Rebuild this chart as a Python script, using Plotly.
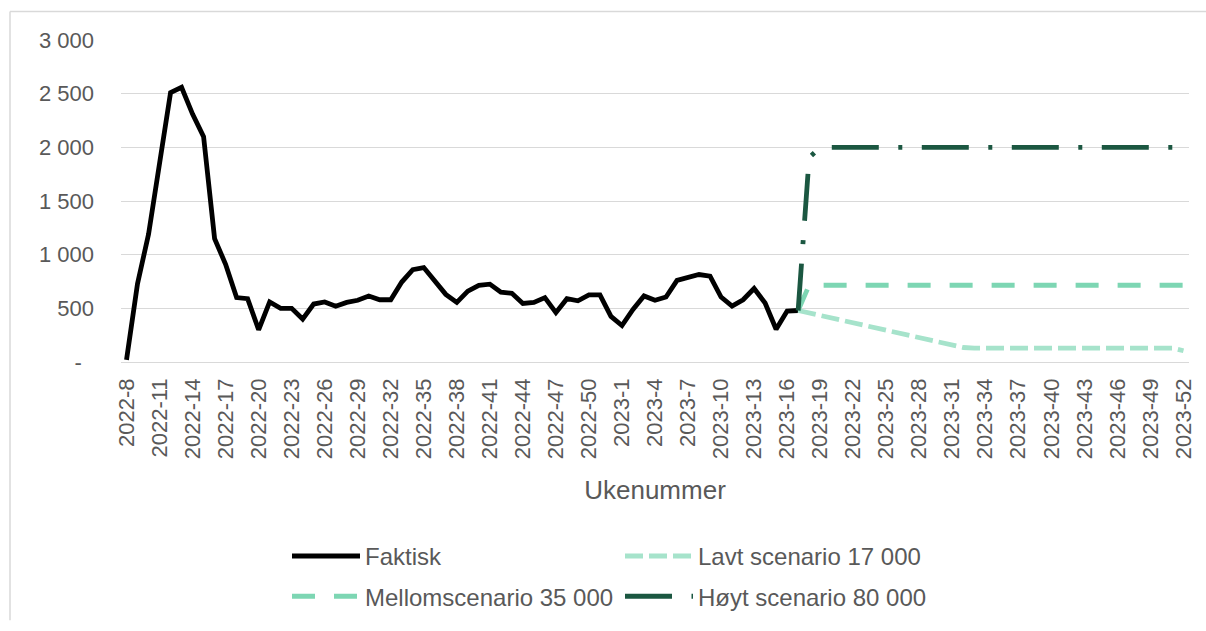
import plotly.graph_objects as go

# ---------------- data ----------------
weeks_2022 = list(range(8, 53))
weeks_2023 = list(range(1, 53))
categories = [f"2022-{w}" for w in weeks_2022] + [f"2023-{w}" for w in weeks_2023]

faktisk = [20, 730, 1190, 1850, 2510, 2560, 2310, 2100, 1150, 910,
           600, 590, 300, 560, 500, 500, 400, 540, 560, 520,
           555, 575, 615, 580, 580, 745, 860, 880, 760, 630,
           555, 660, 715, 725, 650, 640, 545, 555, 600, 460,
           590, 570, 625, 625, 425, 340, 490, 615, 575, 605,
           760, 785, 815, 800, 605, 520, 580, 685, 550, 305,
           475, 480]

lavt = [480, 457, 434, 411, 388, 366, 343, 320, 297, 274,
        251, 228, 205, 182, 159, 135, 130, 130, 130, 130,
        130, 130, 130, 130, 130, 130, 130, 130, 130, 130,
        130, 130, 130, 130, 130, 105]

mellom = [480, 715, 715, 715, 715, 715, 715, 715, 715, 715,
          715, 715, 715, 715, 715, 715, 715, 715, 715, 715,
          715, 715, 715, 715, 715, 715, 715, 715, 715, 715,
          715, 715, 715, 715, 715, 715]

hoyt = [480, 1905, 2000, 2000, 2000, 2000, 2000, 2000, 2000, 2000,
        2000, 2000, 2000, 2000, 2000, 2000, 2000, 2000, 2000, 2000,
        2000, 2000, 2000, 2000, 2000, 2000, 2000, 2000, 2000, 2000,
        2000, 2000, 2000, 2000, 2000, 2000]

series_names = ["Faktisk", "Lavt scenario 17 000", "Mellomscenario 35 000", "Høyt scenario 80 000"]

y_tickvals = [0, 500, 1000, 1500, 2000, 2500, 3000]
y_ticktext = ["-\u00a0\u00a0", "500", "1 000", "1 500", "2 000", "2 500", "3 000"]
x_tickvals = categories[::3]

# ---------------- figure ----------------
FONT = "Liberation Sans, Arial, sans-serif"
GRAY = "#595959"
GRID = "#d9d9d9"

n_fak = len(faktisk)
scen_x = categories[n_fak - 1:]

fig = go.Figure()
fig.add_trace(go.Scatter(x=categories[:n_fak], y=faktisk, mode="lines", name=series_names[0],
                         line=dict(color="#000000", width=4.8), legend="legend"))
fig.add_trace(go.Scatter(x=scen_x, y=lavt, mode="lines", name=series_names[1],
                         line=dict(color="#a6e3cb", width=4.8, dash="18px,6px"), legend="legend"))
fig.add_trace(go.Scatter(x=scen_x, y=mellom, mode="lines", name=series_names[2],
                         line=dict(color="#7dd6b3", width=4.8, dash="23px,19px"), legend="legend2"))
fig.add_trace(go.Scatter(x=scen_x, y=hoyt, mode="lines", name=series_names[3],
                         line=dict(color="#1b5741", width=4.8, dash="47px,19.5px,4px,19.5px"), legend="legend2"))

L, R, T, B = 121, 17, 40, 263
W, H = 1206, 631
pw = W - L - R
ph = H - T - B

def px_x(px):
    return (px - L) / pw

def px_y(py):
    return (H - B - py) / ph

legend_common = dict(orientation="h", xanchor="left", yanchor="middle",
                     font=dict(family=FONT, size=24, color=GRAY),
                     bgcolor="rgba(0,0,0,0)", itemwidth=68,
                     entrywidth=250, entrywidthmode="pixels",
                     traceorder="normal", tracegroupgap=0)

border = dict(color=GRID, width=1.5)

fig.update_layout(
    width=W, height=H, autosize=False,
    margin=dict(l=L, r=R, t=T, b=B, pad=0),
    paper_bgcolor="white", plot_bgcolor="white",
    font=dict(family=FONT, size=22, color=GRAY),
    showlegend=True,
    legend=dict(x=px_x(287), y=px_y(566), **legend_common),
    legend2=dict(x=px_x(287), y=px_y(607), **legend_common),
    xaxis=dict(type="category", categoryorder="array", categoryarray=categories,
               range=[-0.5, len(categories) - 0.5],
               tickmode="array", tickvals=x_tickvals, ticktext=x_tickvals,
               tickangle=-90, tickfont=dict(family=FONT, size=22, color=GRAY),
               showgrid=False, zeroline=False, showline=False, ticks="",
               ticklabelstandoff=11,
               title=dict(text="Ukenummer", font=dict(family=FONT, size=26, color=GRAY), standoff=22),
               automargin=False),
    yaxis=dict(range=[0, 3000], tickmode="array", tickvals=y_tickvals, ticktext=y_ticktext,
               tickfont=dict(family=FONT, size=22, color=GRAY),
               showgrid=True, gridcolor=GRID, gridwidth=1.3,
               zeroline=True, zerolinecolor=GRID, zerolinewidth=1.3,
               showline=False, ticks="", ticklabelstandoff=26, automargin=False),
    shapes=[
        dict(type="line", xref="paper", yref="paper",
             x0=px_x(10), x1=px_x(W), y0=px_y(11), y1=px_y(11), line=border, layer="below"),
        dict(type="line", xref="paper", yref="paper",
             x0=px_x(10), x1=px_x(10), y0=px_y(11), y1=px_y(H), line=border, layer="below"),
    ],
)

fig.write_html("out.html", config={"displayModeBar": False, "responsive": False},
               post_script="document.body.style.margin='0';document.body.style.overflow='hidden';")
